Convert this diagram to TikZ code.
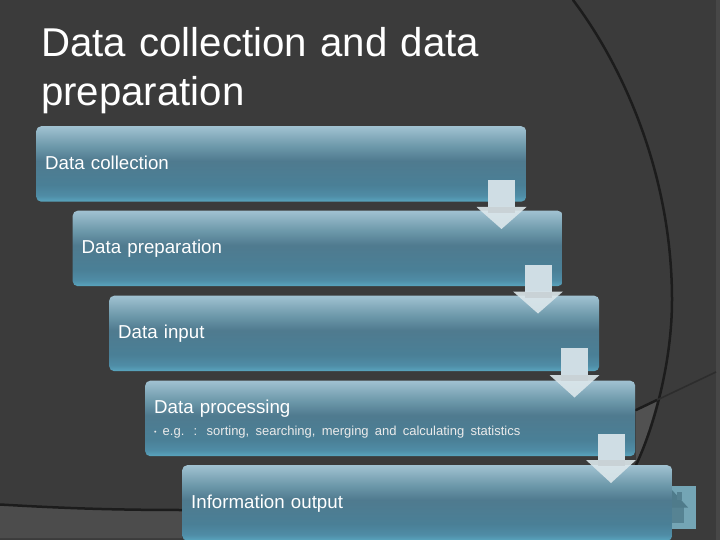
\documentclass[tikz,border=0pt]{standalone}
\usepackage{fontspec}
\setmainfont{Liberation Sans}
\usetikzlibrary{calc}
\definecolor{bg}{HTML}{3B3B3B}
\definecolor{band}{HTML}{4C4C4C}
\definecolor{strip}{HTML}{474747}
\definecolor{curveline}{HTML}{1C1C1C}
\definecolor{homebg}{HTML}{74A5B5}
\definecolor{homefg}{HTML}{4F7B8B}
\definecolor{shaftc}{HTML}{CFDDE4}
\definecolor{headc}{HTML}{DCE7EB}
\definecolor{overlapc}{HTML}{C9D2D6}
\pgfdeclareverticalshading{boxshade}{100bp}{
 rgb(0bp)=(0.35,0.65,0.75);
 rgb(25bp)=(0.35,0.65,0.75);
 rgb(29bp)=(0.31,0.55,0.65);
 rgb(36bp)=(0.29,0.50,0.59);
 rgb(52bp)=(0.31,0.48,0.56);
 rgb(62bp)=(0.43,0.60,0.67);
 rgb(75bp)=(0.63,0.76,0.82);
 rgb(100bp)=(0.63,0.76,0.82)}
\newcommand{\shiftline}[2]{\raisebox{#1}[\height][\depth]{#2}}
\tikzset{
 stepbox/.style={anchor=north west,minimum height=#1,inner ysep=0pt,inner xsep=9pt,
   text width=472pt,align=left,text=white,shading=boxshade,rounded corners=5pt,
   font=\fontsize{18.7}{21}\selectfont},
 stepbox/.default=75.5pt,
 downshaft/.style={fill=shaftc},
 downhead/.style={fill=headc,fill opacity=.9},
 overlapband/.style={fill=overlapc},
 titletext/.style={anchor=north west,inner sep=0pt,text=white,align=left,text width=560pt,
   font=\fontsize{40.2}{49}\selectfont},
 dark/.style={draw=curveline,line width=2.5pt,line cap=round}
}
\begin{document}
\begin{tikzpicture}[x=1pt,y=-1pt]
\useasboundingbox (0,0) rectangle (720,540);
\fill[bg] (0,0) rectangle (720,540);
\fill[strip] (716,0) rectangle (720,540);
% lighter lower band
\fill[band] (0,505) -- (182,511) -- (182,538) -- (0,538) -- cycle;
\fill[band!130!bg] (636,410) -- (657,400) .. controls (652,420) and (644,445) .. (636,463) -- cycle;
% background lines
\coordinate (la) at (0,504.5);
\coordinate (lb) at (184,510);
\draw[dark] (la) .. controls (60,508) and (110,510) .. (lb);
\coordinate (ca) at (573,0);
\coordinate (cb) at (672,300);
\coordinate (cc) at (636,465);
\draw[dark] (ca) .. controls (620,62) and (672,170) .. (cb) .. controls (672,360) and (655,425) .. (cc);
\coordinate (ra) at (636,410);
\coordinate (rb) at (657,400);
\coordinate (rc) at (716,372);
\draw[dark] (ra) -- (rb);
\draw[curveline!45!bg,line width=1.6pt] (rb) -- (rc);
% home button
\fill[homebg] (665,486) rectangle (696,529);
\fill[homefg!80!homebg] (672,507) rectangle (684,523);
\fill[homefg] (672,490) -- (688,507.5) -- (672,507.5) -- cycle;
\fill[homefg!85!homebg] (677,492) rectangle (682,500);
% title
\node[titletext] (title) at (41,27.5) {Data collection and data\\preparation};
% boxes
\node[stepbox] (b1) at (36,126) {\shiftline{1pt}{Data collection}};
\node[stepbox] (b2) at (72.5,210.5) {Data preparation};
\node[stepbox] (b3) at (109,295.5) {Data input};
\node[stepbox] (b4) at (145,380.5) {\shiftline{-2pt}{Data processing}\\[3pt]
  {\fontsize{13}{15}\selectfont\textcolor{white!92!black}{\raisebox{1pt}{\scalebox{.55}{\textbullet}}\hspace{6pt}e.g. : sorting, searching, merging and calculating statistics}}};
\node[stepbox] (b5) at (182,465) {\shiftline{-1pt}{Information output}};
% block arrows
\foreach \x/\ys/\ym/\ye/\nm in {501.5/180/207/229/a1,538/265/291.5/313.5/a2,574.5/348/375/397.5/a3,611/434/460/483/a4}{
  \fill[downshaft] (\x-13.5,\ys) rectangle (\x+13.5,\ym);
  \fill[downhead] (\x-25,\ym) -- (\x+25,\ym) -- (\x,\ye) -- cycle;
  \fill[overlapband] (\x-13.5,\ym) rectangle (\x+13.5,\ym+6);
}
\end{tikzpicture}
\end{document}
